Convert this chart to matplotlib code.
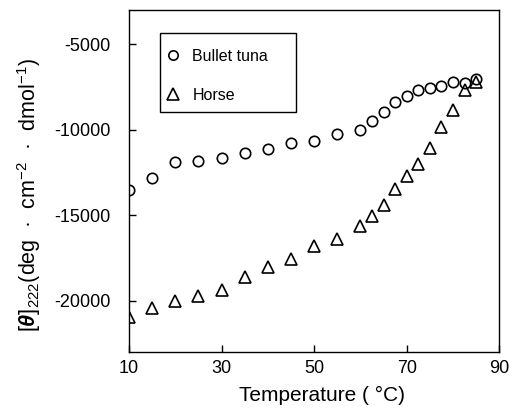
import matplotlib
matplotlib.use("Agg")
import matplotlib.pyplot as plt
from matplotlib.patches import Rectangle

# ---------------------------------------
# Data
# ---------------------------------------

temp_tuna = [10, 15, 20, 25, 30, 35, 40, 45, 50, 55, 60, 62.5, 65, 67.5,
             70, 72.5, 75, 77.5, 80, 82.5, 85]
theta_tuna = [-13500, -12800, -11900, -11800, -11650, -11350, -11150, -10800,
              -10650, -10250, -10000, -9500, -8950, -8400, -8050, -7650,
              -7550, -7450, -7200, -7250, -7050]

temp_horse = [10, 15, 20, 25, 30, 35, 40, 45, 50, 55, 60, 62.5, 65, 67.5,
              70, 72.5, 75, 77.5, 80, 82.5, 85]
theta_horse = [-20950, -20450, -20000, -19700, -19400, -18600, -18000, -17550,
               -16800, -16400, -15650, -15050, -14400, -13450, -12700, -12000,
               -11050, -9850, -8850, -7700, -7200]

x_ticks = [10, 30, 50, 70, 90]
y_ticks = [-20000, -15000, -10000, -5000]

# ---------------------------------------
# Style
# ---------------------------------------

plt.rcParams.update({
    "font.family": "Liberation Sans",
    "axes.unicode_minus": False,
    "mathtext.fontset": "custom",
    "mathtext.rm": "Liberation Sans",
    "mathtext.it": "Liberation Sans:italic",
    "mathtext.bf": "Liberation Sans:bold:italic",
})

fig = plt.figure(figsize=(5.10, 4.12), dpi=100)
ax = fig.add_axes([0.253, 0.1456, 0.726, 0.830])

ax.plot(temp_tuna, theta_tuna, linestyle="none", marker="o", markersize=7.5,
        markerfacecolor="none", markeredgecolor="black", markeredgewidth=1.2,
        label="Bullet tuna")
ax.plot(temp_horse, theta_horse, linestyle="none", marker="^", markersize=9,
        markerfacecolor="none", markeredgecolor="black", markeredgewidth=1.2,
        label="Horse")

ax.set_xlim(10, 90)
ax.set_ylim(-23000, -3000)
ax.set_xticks(x_ticks)
ax.set_yticks(y_ticks)

for side in ax.spines.values():
    side.set_linewidth(1.0)
    side.set_color("black")

ax.tick_params(axis="both", direction="in", length=5, width=1.0,
               labelsize=13, colors="black")
ax.tick_params(axis="x", pad=6)
ax.tick_params(axis="y", pad=13)

ax.set_xlabel("Temperature ( °C)", fontsize=15)
ax.xaxis.set_label_coords(0.52, -0.10)
ax.set_ylabel(r"$[\mathbf{θ}]_{222}$(deg  ·  cm$^{-2}$  ·  dmol$^{-1}$)",
              fontsize=15.5)
ax.yaxis.set_label_coords(-0.233, 0.46)

# legend box drawn separately so the entries can sit where the original has them
ax.add_patch(Rectangle((0.083, 0.702), 0.367, 0.231, transform=ax.transAxes,
                       facecolor="white", edgecolor="black", linewidth=1.0,
                       zorder=3))
leg = ax.legend(loc="upper left", bbox_to_anchor=(0.102, 0.886),
                borderaxespad=0, borderpad=0, fontsize=11.5, frameon=False,
                labelspacing=1.5, handlelength=0.8, handletextpad=0.8,
                markerscale=0.9)
leg.set_zorder(4)

fig.savefig("out.png", dpi=100)
